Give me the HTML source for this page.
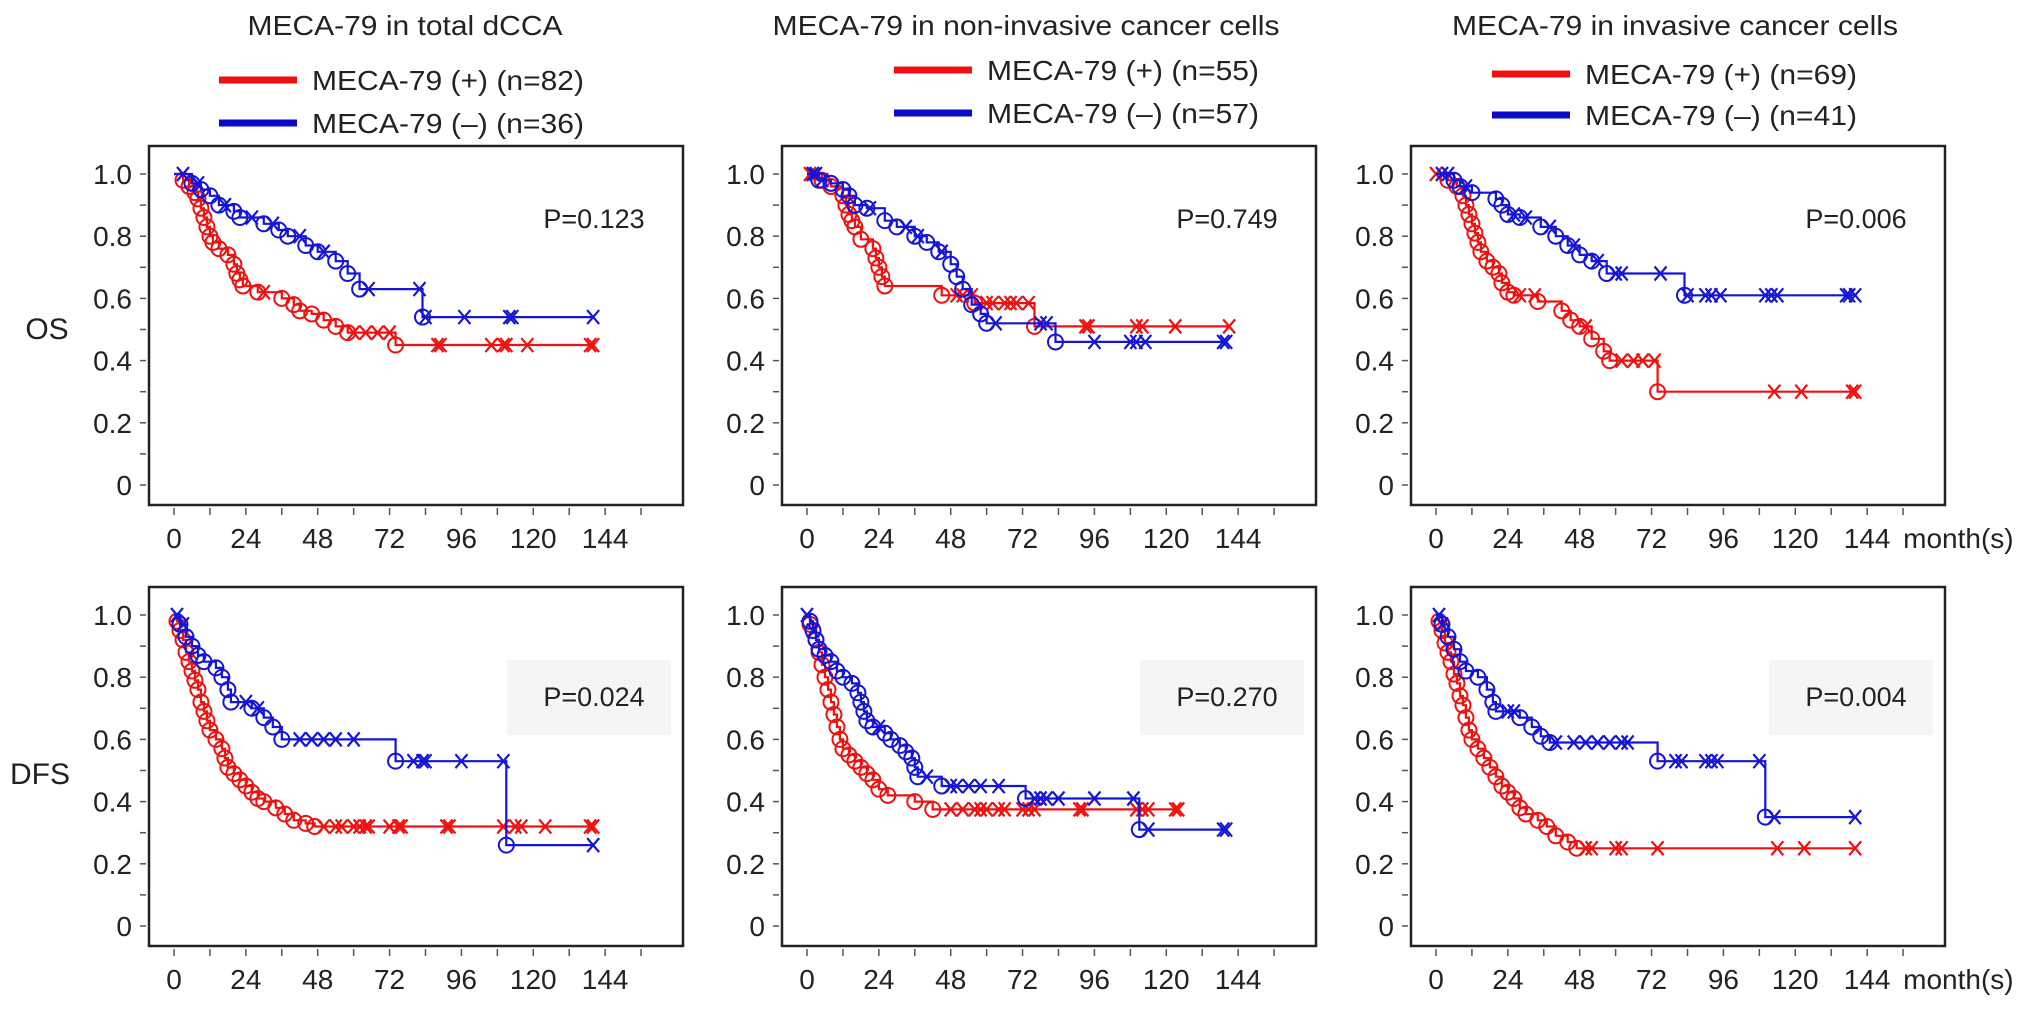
<!DOCTYPE html>
<html><head><meta charset="utf-8"><title>MECA-79 Kaplan-Meier curves</title>
<style>html,body{margin:0;padding:0;background:#fff}svg{display:block}text{font-family:"Liberation Sans",Arial,sans-serif;fill:#222}</style>
</head><body>
<svg id="fig" width="2032" height="1010" viewBox="0 0 2032 1010" xmlns="http://www.w3.org/2000/svg"></svg>
<script>
// ---- data ----
const months = [0,24,48,72,96,120,144];
const yTicks = [0,0.2,0.4,0.6,0.8,1.0];
const yTickLabels = ["0","0.2","0.4","0.6","0.8","1.0"];
const titles = ["MECA-79 in total dCCA","MECA-79 in non-invasive cancer cells","MECA-79 in invasive cancer cells"];
const posLabels = ["MECA-79 (+) (n=82)","MECA-79 (+) (n=55)","MECA-79 (+) (n=69)"];
const negLabels = ["MECA-79 (\u2013) (n=36)","MECA-79 (\u2013) (n=57)","MECA-79 (\u2013) (n=41)"];
const pOS = ["P=0.123","P=0.749","P=0.006"];
const pDFS = ["P=0.024","P=0.270","P=0.004"];

// OS total
const os1RedT=[3,5,7,8,9,10,11,12,13,15,18,20,21,22,23,28,36,40,42,46,50,54,58,74];
const os1RedS=[0.98,0.96,0.94,0.92,0.89,0.86,0.83,0.80,0.78,0.76,0.74,0.71,0.68,0.66,0.64,0.62,0.60,0.58,0.56,0.55,0.53,0.51,0.49,0.45];
const os1RedC=[30,60,64,68,72,88,89,106,110,111,118,139,140];
const os1BlueT=[6,9,12,15,20,22,30,35,38,44,48,54,58,62,83];
const os1BlueS=[0.97,0.95,0.93,0.90,0.88,0.86,0.84,0.82,0.80,0.77,0.75,0.72,0.68,0.63,0.54];
const os1BlueC=[3,8,17,26,33,42,50,65,82,84,97,112,113,140];
// OS non-invasive
const os2RedT=[5,8,12,13,14,15,16,18,22,23,24,25,26,45,56,76];
const os2RedS=[0.98,0.96,0.93,0.90,0.87,0.85,0.83,0.79,0.76,0.73,0.70,0.67,0.64,0.61,0.585,0.51];
const os2RedC=[1,2,50,52,55,60,62,66,68,70,74,93,94,110,112,123,141];
const os2BlueT=[4,8,12,14,16,20,26,30,36,40,44,48,50,52,55,58,60,83];
const os2BlueS=[0.98,0.97,0.95,0.93,0.90,0.89,0.85,0.83,0.80,0.78,0.75,0.71,0.67,0.63,0.58,0.55,0.52,0.46];
const os2BlueC=[2,3,5,21,33,37,45,63,78,80,96,108,110,113,139,140];
// OS invasive
const os3RedT=[4,7,9,10,11,12,13,14,15,17,19,21,22,24,26,34,42,45,48,52,56,58,74];
const os3RedS=[0.98,0.96,0.93,0.90,0.87,0.84,0.81,0.78,0.75,0.72,0.70,0.68,0.65,0.62,0.61,0.59,0.56,0.53,0.51,0.47,0.43,0.40,0.30];
const os3RedC=[0,28,33,50,62,66,69,73,113,122,139,140];
const os3BlueT=[6,8,12,20,22,24,28,35,40,44,48,52,57,83];
const os3BlueS=[0.98,0.96,0.94,0.92,0.90,0.87,0.86,0.83,0.80,0.77,0.74,0.72,0.68,0.61];
const os3BlueC=[2,4,10,26,30,38,46,54,60,62,75,84,90,92,95,110,112,114,137,138,140];
// DFS total
const dfs1RedT=[1,2,3,4,5,6,7,8,9,10,11,12,14,16,17,18,20,22,24,26,28,30,34,37,40,44,47];
const dfs1RedS=[0.98,0.95,0.92,0.88,0.85,0.82,0.79,0.76,0.72,0.69,0.66,0.63,0.60,0.57,0.54,0.51,0.49,0.47,0.45,0.43,0.41,0.40,0.38,0.36,0.34,0.33,0.32];
const dfs1RedC=[50,54,56,60,62,64,65,72,75,76,91,92,110,114,116,124,139,140];
const dfs1BlueT=[2,4,6,8,10,14,16,18,19,26,30,33,36,74,111];
const dfs1BlueS=[0.97,0.93,0.90,0.87,0.85,0.83,0.80,0.76,0.72,0.70,0.67,0.64,0.60,0.53,0.26];
const dfs1BlueC=[1,3,24,28,42,46,50,54,60,80,83,84,96,110,140];
// DFS non-invasive
const dfs2RedT=[1,3,4,5,6,7,8,9,10,11,12,14,16,18,20,22,24,27,36,42];
const dfs2RedS=[0.97,0.92,0.88,0.84,0.80,0.76,0.72,0.68,0.64,0.60,0.57,0.55,0.53,0.51,0.49,0.47,0.44,0.42,0.40,0.375];
const dfs2RedC=[48,52,56,58,60,64,66,72,74,76,91,92,110,112,114,123,124];
const dfs2BlueT=[1,2,3,4,6,8,10,12,15,17,18,19,20,22,26,28,31,33,35,36,37,45,73,111];
const dfs2BlueS=[0.98,0.95,0.92,0.89,0.87,0.85,0.82,0.80,0.78,0.75,0.72,0.69,0.66,0.64,0.62,0.60,0.58,0.56,0.54,0.51,0.48,0.45,0.41,0.31];
const dfs2BlueC=[0,2,24,40,48,50,54,58,64,76,78,80,84,96,109,114,139,140];
// DFS invasive
const dfs3RedT=[1,2,3,4,5,6,7,8,9,10,11,12,14,16,18,20,22,24,26,28,30,34,37,40,44,47];
const dfs3RedS=[0.98,0.95,0.91,0.88,0.85,0.81,0.78,0.74,0.71,0.67,0.63,0.60,0.57,0.54,0.51,0.48,0.45,0.43,0.41,0.38,0.36,0.34,0.32,0.29,0.27,0.25];
const dfs3RedC=[50,52,60,62,74,114,123,140];
const dfs3BlueT=[2,4,6,8,10,14,17,19,20,28,32,35,38,74,110];
const dfs3BlueS=[0.97,0.93,0.89,0.85,0.82,0.80,0.76,0.72,0.69,0.67,0.64,0.61,0.59,0.53,0.35];
const dfs3BlueC=[1,2,24,26,40,46,50,54,58,62,64,80,82,90,92,94,108,113,140];

const panels = [
 {col:0,row:0,red:[os1RedT,os1RedS,os1RedC],blue:[os1BlueT,os1BlueS,os1BlueC]},
 {col:1,row:0,red:[os2RedT,os2RedS,os2RedC],blue:[os2BlueT,os2BlueS,os2BlueC]},
 {col:2,row:0,red:[os3RedT,os3RedS,os3RedC],blue:[os3BlueT,os3BlueS,os3BlueC]},
 {col:0,row:1,red:[dfs1RedT,dfs1RedS,dfs1RedC],blue:[dfs1BlueT,dfs1BlueS,dfs1BlueC]},
 {col:1,row:1,red:[dfs2RedT,dfs2RedS,dfs2RedC],blue:[dfs2BlueT,dfs2BlueS,dfs2BlueC]},
 {col:2,row:1,red:[dfs3RedT,dfs3RedS,dfs3RedC],blue:[dfs3BlueT,dfs3BlueS,dfs3BlueC]}
];

// ---- layout ----
const NS="http://www.w3.org/2000/svg";
const svg=document.getElementById('fig');
const boxLeft=[149,782,1411], boxW=534;
const boxTop=[146,587], boxH=359;
const y1px=[174,615], y0px=[485,926];
const RED="#f01010", BLUE="#1515d8";
function mk(tag,attrs,parent){const e=document.createElementNS(NS,tag);for(const k in attrs)e.setAttribute(k,attrs[k]);(parent||svg).appendChild(e);return e;}
function xS(col,m){return boxLeft[col]+25+m*2.994;}
function yS(row,v){return y0px[row]+(y1px[row]-y0px[row])*v;}

// titles & legends
const legY=[[80,123],[70,113],[74,115]];
const legLineX=[219,894,1492];
const titleCX=[405,1026,1675], titleW=[315,507,446];
for(let c=0;c<3;c++){
  const t=mk('text',{x:titleCX[c]-titleW[c]/2,y:35,'font-size':28,textLength:titleW[c],lengthAdjust:'spacingAndGlyphs'});
  
  
  t.textContent=titles[c];
  const g=mk('g',{});
  
  
  const l1=mk('line',{x1:legLineX[c],x2:legLineX[c]+78,y1:legY[c][0],y2:legY[c][0],stroke:RED,'stroke-width':7},g);
  
  
  const t1=mk('text',{x:legLineX[c]+93,y:legY[c][0]+10,'font-size':28,textLength:272,lengthAdjust:'spacingAndGlyphs'},g);
  
  
  t1.textContent=posLabels[c];
  const l2=mk('line',{x1:legLineX[c],x2:legLineX[c]+78,y1:legY[c][1],y2:legY[c][1],stroke:'#0a0ac8','stroke-width':7},g);
  
  
  const t2=mk('text',{x:legLineX[c]+93,y:legY[c][1]+10,'font-size':28,textLength:272,lengthAdjust:'spacingAndGlyphs'},g);
  
  
  t2.textContent=negLabels[c];
}
// row labels
const os=mk('text',{x:47,y:339,'font-size':30,'text-anchor':'middle'});


os.textContent='OS';
const dfs=mk('text',{x:40,y:784,'font-size':30,'text-anchor':'middle'});


dfs.textContent='DFS';

function drawCurve(g,p,ser,color,name){
  const [T,S,C]=ser;
  const endT=C.length?Math.max(C[C.length-1],T[T.length-1]):T[T.length-1];
  let d='M'+xS(p.col,0)+','+yS(p.row,1);
  for(let i=0;i<T.length;i++){
    d+=' H'+xS(p.col,T[i]).toFixed(1)+' V'+yS(p.row,S[i]).toFixed(1);
  }
  d+=' H'+xS(p.col,endT).toFixed(1);
  const path=mk('path',{d:d,fill:'none',stroke:color,'stroke-width':2.2},g);
  
  
  function survAt(t){let s=1;for(let i=0;i<T.length;i++){if(T[i]<=t)s=S[i];}return s;}
  for(let i=0;i<T.length;i++){
    const c=mk('circle',{cx:xS(p.col,T[i]),cy:yS(p.row,S[i]),r:7.5,fill:'none',stroke:color,'stroke-width':2},g);
    
    
  }
  for(let i=0;i<C.length;i++){
    const cx=xS(p.col,C[i]), cy=yS(p.row,survAt(C[i]));
    const m=mk('path',{d:`M${cx-6},${cy-7} L${cx+6},${cy+7} M${cx-6},${cy+7} L${cx+6},${cy-7}`,stroke:color,'stroke-width':2.2,fill:'none'},g);
    
    
  }
}

panels.forEach((p,idx)=>{
  const L=boxLeft[p.col], T0=boxTop[p.row];
  const g=mk('g',{});
  
  
  if(p.row===1){
    const bg=mk('rect',{x:L+358,y:T0+73,width:164,height:75,fill:'#f5f5f5'},g);
    
    
  }
  const box=mk('rect',{x:L,y:T0,width:boxW,height:boxH,fill:'none',stroke:'#222','stroke-width':2.5},g);
  
  
  for(let v=0;v<=10;v++){
    const yy=yS(p.row,v/10);
    const tk=mk('line',{x1:L-9,x2:L-3,y1:yy,y2:yy,stroke:'#555','stroke-width':1.5},g);
    
    
  }
  yTicks.forEach((v,i)=>{
    const t=mk('text',{x:L-17,y:yS(p.row,v)+10,'font-size':28,'text-anchor':'end'},g);
    
    
    t.textContent=yTickLabels[i];
  });
  for(let m=0;m<=156;m+=12){
    const xx=xS(p.col,m);
    const tk=mk('line',{x1:xx,x2:xx,y1:T0+boxH+3,y2:T0+boxH+10,stroke:'#555','stroke-width':1.5},g);
    
    
  }
  months.forEach(m=>{
    const t=mk('text',{x:xS(p.col,m),y:T0+boxH+43,'font-size':28,'text-anchor':'middle'},g);
    
    
    t.textContent=String(m);
  });
  if(p.col===2){
    const t=mk('text',{x:xS(2,144)+36,y:T0+boxH+43,'font-size':28},g);
    
    
    t.textContent='month(s)';
  }
  drawCurve(g,p,p.red,RED,'positive');
  drawCurve(g,p,p.blue,BLUE,'negative');
  const pt=mk('text',{x:L+445,y:p.row?T0+119:T0+82,'font-size':27,'text-anchor':'middle'},g);
  
  
  pt.textContent=p.row?pDFS[p.col]:pOS[p.col];
});
</script>
</body></html>
